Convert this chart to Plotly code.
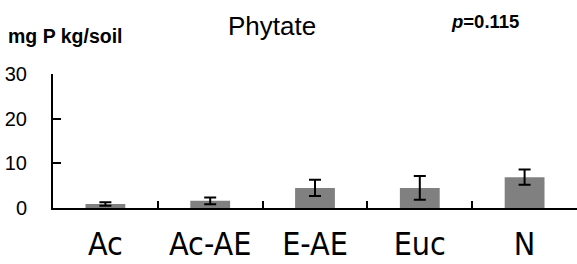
import plotly.graph_objects as go

categories = ["Ac", "Ac-AE", "E-AE", "Euc", "N"]
values = [0.9, 1.6, 4.5, 4.5, 6.9]
errors = [0.4, 0.75, 1.8, 2.65, 1.7]
y_ticks = [0, 10, 20, 30]

W, H = 577, 264
L, R, T, B = 53, 0, 74, 56
pw = W - L - R
ph = H - T - B

def px(x):
    return (x - L) / pw

def py(y):
    return (H - B - y) / ph

fig = go.Figure()
fig.add_trace(go.Bar(
    x=categories, y=values, width=0.38,
    marker=dict(color="#808080", line=dict(width=0)),
    error_y=dict(type="data", array=errors, visible=True, color="black",
                 thickness=2, width=6),
))

font = "Liberation Sans, Arial, sans-serif"
xfont = "DejaVu Sans Condensed, Liberation Sans, sans-serif"
fig.update_layout(
    width=W, height=H,
    margin=dict(l=L, r=R, t=T, b=B, pad=0),
    plot_bgcolor="white", paper_bgcolor="white",
    showlegend=False,
    font=dict(family=font, color="black"),
    xaxis=dict(
        showline=True, linecolor="black", linewidth=2,
        ticks="inside", ticklen=7, tickwidth=2, tickcolor="black",
        tickson="boundaries", showgrid=False,
        tickfont=dict(size=32, family=xfont),
        ticklabelstandoff=7, automargin=False,
    ),
    yaxis=dict(
        range=[0, 30], tickvals=y_ticks,
        showline=True, linecolor="black", linewidth=2,
        ticks="inside", ticklen=8, tickwidth=2, tickcolor="black",
        showgrid=False, zeroline=False,
        tickfont=dict(size=20, family=font),
        ticklabelstandoff=20, automargin=False,
    ),
    annotations=[
        dict(text="<b>mg P kg/soil</b>", x=px(6), y=py(36), xref="paper", yref="paper",
             xanchor="left", yanchor="middle", showarrow=False,
             font=dict(size=19.5, family=font)),
        dict(text="Phytate", x=px(271.5), y=py(26), xref="paper", yref="paper",
             xanchor="center", yanchor="middle", showarrow=False,
             font=dict(size=26, family=font)),
        dict(text="<b><i>p</i>=0.115</b>", x=px(485), y=py(21), xref="paper", yref="paper",
             xanchor="center", yanchor="middle", showarrow=False,
             font=dict(size=18.5, family=font)),
    ],
)

fig.write_html("out.html", config={"displayModeBar": False},
               post_script="document.body.style.margin='0';document.body.style.overflow='hidden';")
